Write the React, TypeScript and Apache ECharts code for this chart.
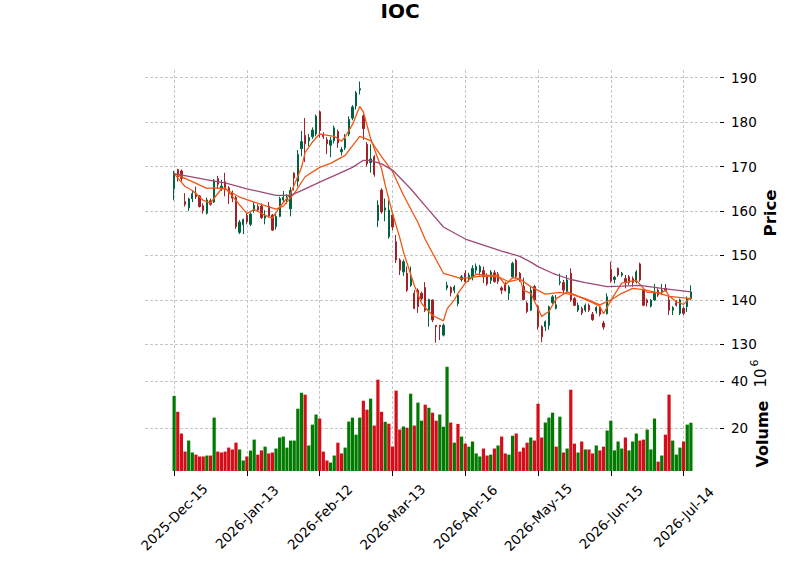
import React, { useEffect, useRef } from "react";
import * as echarts from "echarts";

const ticker = "IOC";
const tickIndex = [0, 20, 40, 60, 80, 100, 120, 140];
const tickLabels = ["2025-Dec-15", "2026-Jan-13", "2026-Feb-12", "2026-Mar-13", "2026-Apr-16", "2026-May-15", "2026-Jun-15", "2026-Jul-14"];
const priceTicks = [130, 140, 150, 160, 170, 180, 190];
const volumeTicks = [20, 40];

const opens = [
  165.0, 169.3, 169.0, 162.1, 160.7, 162.8, 164.0, 163.4, 161.2, 159.5,
  162.3, 162.0, 167.3, 165.2, 166.6, 165.2, 164.2, 163.0, 155.2, 156.9,
  159.0, 157.0, 160.1, 161.0, 161.1, 158.4, 161.1, 159.1, 156.5, 158.8,
  162.5, 162.6, 160.5, 168.5, 166.7, 174.0, 177.0, 175.8, 176.7, 177.3,
  182.3, 177.2, 176.0, 174.8, 175.8, 177.9, 173.3, 174.2, 177.3, 180.9,
  183.6, 187.2, 181.4, 175.0, 170.9, 172.2, 157.9, 164.7, 160.2, 154.2,
  159.1, 153.1, 149.0, 146.3, 146.0, 143.3, 141.5, 142.2, 141.5, 142.8,
  137.7, 140.0, 134.3, 134.3, 132.1, 142.7, 142.8, 142.1, 139.2, 144.6,
  146.0, 144.6, 145.2, 146.7, 146.3, 146.6, 145.4, 144.4, 146.1, 145.8,
  142.7, 143.6, 141.5, 145.2, 148.9, 146.0, 143.0, 139.3, 137.7, 143.0,
  138.5, 134.0, 134.0, 134.3, 139.4, 138.1, 143.9, 143.9, 141.9, 146.0,
  140.3, 137.7, 138.1, 137.7, 138.8, 136.8, 137.5, 138.1, 134.8, 136.9,
  146.9, 144.6, 147.1, 145.6, 144.8, 145.2, 144.8, 144.1, 148.1, 142.2,
  140.0, 138.6, 140.0, 142.2, 141.9, 142.6, 140.0, 137.7, 139.4, 137.0,
  138.1, 138.5, 140.3
];
const closes = [
  168.5, 167.7, 167.3, 161.5, 162.7, 163.9, 163.2, 161.0, 160.1, 162.5,
  161.5, 166.8, 166.0, 165.6, 164.8, 163.9, 162.9, 156.5, 157.5, 158.1,
  157.6, 159.3, 161.3, 160.2, 158.5, 159.1, 158.9, 155.7, 158.8, 162.8,
  163.1, 163.1, 164.6, 167.4, 172.7, 175.6, 175.1, 176.5, 178.2, 181.3,
  178.1, 176.7, 175.1, 175.9, 178.7, 175.3, 173.8, 176.3, 180.6, 183.4,
  186.6, 187.5, 178.5, 170.6, 171.7, 168.2, 161.3, 159.8, 160.7, 160.2,
  156.4, 149.0, 146.7, 148.6, 142.2, 144.8, 138.1, 138.5, 140.3, 137.7,
  140.1, 135.5, 134.0, 134.0, 134.3, 143.3, 141.6, 142.9, 141.1, 145.2,
  144.1, 145.6, 147.1, 147.5, 147.5, 145.2, 143.6, 146.3, 144.1, 144.2,
  142.2, 142.1, 142.9, 148.2, 145.2, 144.5, 140.1, 137.4, 142.2, 140.0,
  134.0, 131.7, 135.1, 138.5, 140.7, 138.9, 144.1, 142.2, 144.5, 140.0,
  138.8, 138.8, 137.1, 138.8, 137.7, 135.6, 138.3, 136.8, 133.9, 140.7,
  144.3, 145.1, 145.6, 146.0, 143.9, 143.9, 143.9, 146.3, 144.5, 138.8,
  139.4, 139.9, 141.5, 141.1, 142.2, 142.1, 137.7, 138.3, 138.8, 140.0,
  137.0, 140.3, 141.8
];
const highs = [
  169.0, 169.5, 169.3, 164.0, 163.0, 164.5, 165.5, 163.6, 161.7, 163.0,
  162.8, 167.2, 167.9, 167.0, 168.6, 165.6, 164.6, 163.4, 158.0, 158.3,
  159.4, 159.7, 162.0, 161.5, 161.7, 160.2, 162.0, 159.3, 159.3, 163.2,
  164.5, 163.8, 165.4, 168.7, 173.7, 178.0, 180.9, 177.3, 178.8, 181.7,
  182.6, 177.7, 176.6, 176.7, 179.2, 178.3, 174.4, 177.3, 181.3, 183.8,
  187.0, 189.1, 181.7, 175.5, 175.0, 172.6, 162.4, 165.1, 162.8, 162.4,
  159.8, 154.6, 149.4, 149.1, 147.5, 147.5, 142.2, 142.6, 141.9, 144.0,
  140.3, 140.1, 134.3, 134.3, 134.7, 144.1, 143.1, 143.3, 141.5, 145.6,
  146.7, 146.1, 147.8, 148.2, 147.9, 147.5, 146.0, 146.7, 146.7, 146.3,
  143.1, 144.1, 143.3, 148.6, 149.3, 146.3, 145.0, 139.7, 142.9, 143.4,
  138.9, 134.3, 135.4, 138.7, 141.1, 141.1, 145.9, 144.5, 145.6, 147.1,
  140.7, 139.4, 138.5, 139.2, 139.2, 137.3, 138.6, 138.5, 135.3, 141.5,
  148.6, 145.4, 147.3, 146.3, 145.6, 145.6, 145.3, 146.7, 148.4, 142.6,
  140.3, 140.2, 143.6, 142.6, 143.6, 143.6, 140.7, 138.6, 140.0, 140.3,
  138.5, 140.8, 143.3
];
const lows = [
  162.4, 166.6, 166.7, 161.0, 160.0, 162.0, 162.7, 160.8, 159.4, 159.2,
  161.2, 161.8, 165.0, 164.5, 163.3, 161.6, 162.0, 156.0, 154.8, 154.8,
  157.0, 156.6, 159.6, 159.8, 158.2, 157.0, 158.5, 155.5, 155.8, 158.6,
  161.8, 161.6, 158.8, 164.6, 165.5, 172.3, 171.0, 174.5, 176.2, 176.8,
  176.5, 176.2, 172.8, 172.1, 175.2, 174.2, 172.5, 173.7, 176.8, 180.4,
  182.8, 186.2, 176.0, 170.0, 168.6, 167.7, 156.4, 159.4, 157.7, 153.8,
  155.7, 148.3, 145.6, 145.4, 141.8, 142.9, 137.9, 137.1, 139.9, 137.3,
  134.0, 135.0, 130.4, 131.0, 131.8, 142.2, 140.8, 141.5, 138.6, 144.1,
  143.9, 144.1, 144.4, 145.9, 145.5, 143.8, 143.2, 143.6, 143.9, 143.6,
  141.3, 141.9, 140.0, 144.8, 144.8, 144.1, 139.9, 137.0, 137.5, 139.8,
  133.3, 130.5, 133.0, 133.3, 139.1, 137.9, 143.3, 141.5, 141.5, 139.6,
  138.6, 137.3, 136.6, 137.3, 137.3, 135.3, 136.9, 136.3, 133.3, 136.7,
  143.9, 143.7, 145.2, 145.2, 142.6, 143.4, 143.0, 143.7, 144.1, 138.6,
  138.5, 138.3, 139.8, 140.7, 141.1, 141.9, 136.6, 136.6, 138.5, 136.6,
  136.6, 137.3, 140.0
];
// volume in millions
const volumes = [
  33.7, 26.9, 17.6, 9.9, 14.6, 9.5, 8.6, 7.8, 7.8, 8.2,
  8.2, 24.4, 9.9, 9.5, 9.9, 11.6, 10.8, 13.7, 10.8, 6.1,
  7.8, 10.3, 15.0, 8.6, 10.4, 12.0, 9.1, 9.5, 11.2, 15.9,
  16.3, 11.6, 14.6, 14.6, 28.2, 35.0, 34.2, 12.5, 21.4, 25.7,
  24.0, 9.9, 6.1, 5.2, 8.2, 13.7, 9.1, 11.6, 22.7, 24.4,
  17.1, 24.4, 31.6, 27.8, 32.5, 21.0, 40.6, 26.9, 22.6, 21.8,
  12.0, 35.9, 19.3, 20.6, 20.1, 34.6, 21.0, 30.8, 23.1, 29.9,
  28.6, 26.5, 23.1, 25.7, 20.5, 46.1, 22.3, 13.7, 21.7, 16.3,
  13.3, 12.0, 14.2, 9.1, 7.8, 11.2, 8.2, 8.6, 11.2, 12.5,
  16.3, 9.1, 8.6, 16.7, 17.6, 9.9, 11.6, 13.7, 15.9, 14.6,
  30.3, 15.9, 22.3, 24.4, 26.5, 12.0, 24.8, 9.5, 11.2, 36.3,
  13.3, 9.5, 14.2, 10.8, 10.8, 9.1, 12.5, 10.4, 12.0, 18.9,
  23.1, 10.4, 14.2, 11.2, 15.9, 10.4, 14.2, 17.6, 14.6, 15.0,
  19.3, 10.8, 24.0, 5.6, 8.2, 17.1, 34.2, 14.6, 8.6, 11.6,
  14.2, 21.4, 22.2
];
// moving averages read at sample bars: [bar index, value]
const maFast: [number, number][] = [
  [0, 168.4], [3, 165.5], [5, 164.6], [8, 162.4], [10, 161.8], [13, 165.0], [14, 165.2],
  [17, 162.4], [20, 159.4], [22, 160.4], [25, 159.0], [27, 158.4], [29, 160.9], [32, 163.9],
  [35, 169.8], [36, 173.2], [38, 175.5], [40, 177.3], [44, 176.8], [46, 175.7], [47, 176.7],
  [49, 179.4], [51, 183.5], [52, 182.3], [54, 176.3], [57, 169.5], [58, 165.8], [60, 159.5],
  [62, 154.0], [63, 150.8], [66, 143.3], [68, 139.2], [71, 136.5], [74, 135.3], [75, 138.0],
  [77, 140.0], [78, 141.5], [80, 143.8], [83, 145.8], [86, 145.5], [89, 145.5], [91, 143.4],
  [93, 145.0], [95, 144.8], [96, 142.2], [98, 141.5], [101, 136.3], [103, 137.4], [105, 140.3],
  [108, 141.8], [110, 141.2], [113, 140.1], [117, 138.6], [118, 136.9], [119, 138.4], [121, 141.2],
  [123, 143.8], [125, 144.1], [127, 144.4], [129, 142.6], [130, 141.7], [134, 141.6], [135, 142.2],
  [136, 140.9], [138, 139.6], [140, 139.0], [142, 140.6]
];
const maSlow: [number, number][] = [
  [0, 168.4], [5, 166.6], [9, 165.1], [11, 165.2], [14, 165.0], [18, 163.1], [22, 162.0],
  [28, 160.4], [30, 161.1], [33, 163.9], [36, 167.7], [40, 169.8], [43, 170.7], [47, 172.5],
  [51, 176.8], [54, 175.8], [57, 172.2], [60, 168.9], [63, 163.6], [67, 157.4], [69, 153.6],
  [74, 146.0], [79, 144.8], [85, 145.4], [89, 145.2], [92, 144.1], [95, 144.7], [98, 143.0],
  [102, 141.3], [106, 141.7], [110, 141.1], [113, 140.3], [117, 138.9], [120, 140.0], [123, 141.5],
  [126, 142.6], [129, 142.3], [133, 141.6], [136, 140.8], [142, 140.3]
];
const maLong: [number, number][] = [
  [0, 168.4], [11, 166.7], [14, 166.3], [20, 165.0], [28, 163.5], [32, 163.5], [35, 164.6],
  [40, 166.5], [46, 168.7], [49, 169.8], [52, 171.4], [54, 171.4], [57, 170.6], [60, 169.2],
  [65, 165.0], [70, 160.2], [74, 156.4], [80, 153.7], [90, 151.0], [95, 149.8], [98, 148.5],
  [100, 147.5], [104, 146.0], [109, 144.6], [113, 143.9], [119, 143.0], [123, 143.1], [128, 143.3],
  [134, 142.6], [142, 141.8]
];

const PAD = 8;
const UP = "#006340";
const DOWN = "#a02128";
const VUP = "#007a00";
const VDOWN = "#d50d18";
const MA_COLORS = ["#ef5714", "#ef5714", "#9f4878"];
const FONT = "DejaVu Sans";
const gridLine = { color: "#b8b8b8", width: 0.8, type: [3, 2] as number[] };

export default function App() {
  const ref = useRef<HTMLDivElement>(null);
  useEffect(() => {
    if (!ref.current) return;
    const chart = echarts.init(ref.current, undefined, { renderer: "svg" });
    const N = opens.length;
    const cats = Array.from({ length: N + 2 * PAD }, (_, k) => {
      const i = k - PAD;
      const t = tickIndex.indexOf(i);
      return t >= 0 ? tickLabels[t] : String(i);
    });
    const isTick = (k: number) => tickIndex.includes(k - PAD);
    const candles = opens.map((o, i) => [i + PAD, o, closes[i], lows[i], highs[i]]);
    const vols = volumes.map((v, i) => {
      const up = i === 0 ? closes[0] >= opens[0] : closes[i] >= closes[i - 1];
      return { value: [i + PAD, v], itemStyle: { color: up ? VUP : VDOWN } };
    });
    const line = (arr: [number, number][], color: string, name: string) => ({
      type: "line",
      name,
      xAxisIndex: 0,
      yAxisIndex: 0,
      data: arr.map(([i, v]) => [i + PAD, v]),
      showSymbol: false,
      symbol: "none",
      lineStyle: { color, width: 1.3 },
      z: 3,
    });
    const option: any = {
      animation: false,
      backgroundColor: "#ffffff",
      textStyle: { fontFamily: FONT },
      grid: [
        { left: 145, right: 80, top: 70, height: 286 },
        { left: 145, right: 80, top: 356, height: 115 },
      ],
      xAxis: [
        {
          type: "category", gridIndex: 0, data: cats, boundaryGap: false,
          axisLine: { show: false }, axisTick: { show: false }, axisLabel: { show: false },
          splitLine: { show: true, interval: (k: number) => isTick(k), lineStyle: gridLine },
        },
        {
          type: "category", gridIndex: 1, data: cats, boundaryGap: false,
          axisLine: { show: false },
          axisTick: { show: true, interval: (k: number) => isTick(k), length: 5, lineStyle: { color: "#000", width: 1 } },
          axisLabel: {
            show: true, interval: (k: number) => isTick(k), rotate: 45, align: "center", verticalAlign: "middle",
            margin: 46, fontSize: 13.5, color: "#000", fontFamily: FONT,
          },
          splitLine: { show: true, interval: (k: number) => isTick(k), lineStyle: gridLine },
        },
      ],
      yAxis: [
        {
          type: "value", gridIndex: 0, position: "right", min: 127.4, max: 191.7,
          axisLine: { show: false },
          axisTick: { show: true, length: 4, lineStyle: { color: "#000" }, customValues: priceTicks },
          axisLabel: { customValues: priceTicks, margin: 11, fontSize: 13.5, color: "#000", fontFamily: FONT },
          splitLine: { show: true, lineStyle: gridLine },
        },
        {
          type: "value", gridIndex: 1, position: "right", min: 1.6, max: 50.7,
          axisLine: { show: false },
          axisTick: { show: true, length: 4, lineStyle: { color: "#000" }, customValues: volumeTicks },
          axisLabel: { customValues: volumeTicks, margin: 11, fontSize: 13.5, color: "#000", fontFamily: FONT },
          splitLine: { show: true, lineStyle: gridLine },
        },
      ],
      series: [
        {
          type: "candlestick", xAxisIndex: 0, yAxisIndex: 0, data: candles,
          encode: { x: 0, y: [1, 2, 3, 4] },
          barWidth: 1.8, clip: false,
          itemStyle: { color: UP, color0: DOWN, borderColor: UP, borderColor0: DOWN, borderWidth: 1 },
          z: 2,
        },
        line(maFast, MA_COLORS[0], "maFast"),
        line(maSlow, MA_COLORS[1], "maSlow"),
        line(maLong, MA_COLORS[2], "maLong"),
        {
          type: "bar", xAxisIndex: 1, yAxisIndex: 1, data: vols, barWidth: 3.2, clip: true,
        },
      ],
      graphic: [
        { type: "text", x: 400, y: 11, style: { text: ticker, font: `bold 20px '${FONT}'`, fill: "#000", align: "center", verticalAlign: "middle" } },
        { type: "text", x: 770, y: 213, rotation: Math.PI / 2, style: { text: "Price", font: `bold 16.5px '${FONT}'`, fill: "#000", align: "center", verticalAlign: "middle" } },
        { type: "text", x: 762, y: 434, rotation: Math.PI / 2, style: { text: "Volume", font: `bold 16px '${FONT}'`, fill: "#000", align: "center", verticalAlign: "middle" } },
        { type: "text", x: 761, y: 378, rotation: Math.PI / 2, style: { text: "10", font: `15px '${FONT}'`, fill: "#000", align: "center", verticalAlign: "middle" } },
        { type: "text", x: 754, y: 363, rotation: Math.PI / 2, style: { text: "6", font: `11px '${FONT}'`, fill: "#000", align: "center", verticalAlign: "middle" } },
      ],
    };
    chart.setOption(option);
    return () => chart.dispose();
  }, []);
  return <div ref={ref} style={{ position: "fixed", left: 0, top: 0, width: 800, height: 575 }} />;
}
